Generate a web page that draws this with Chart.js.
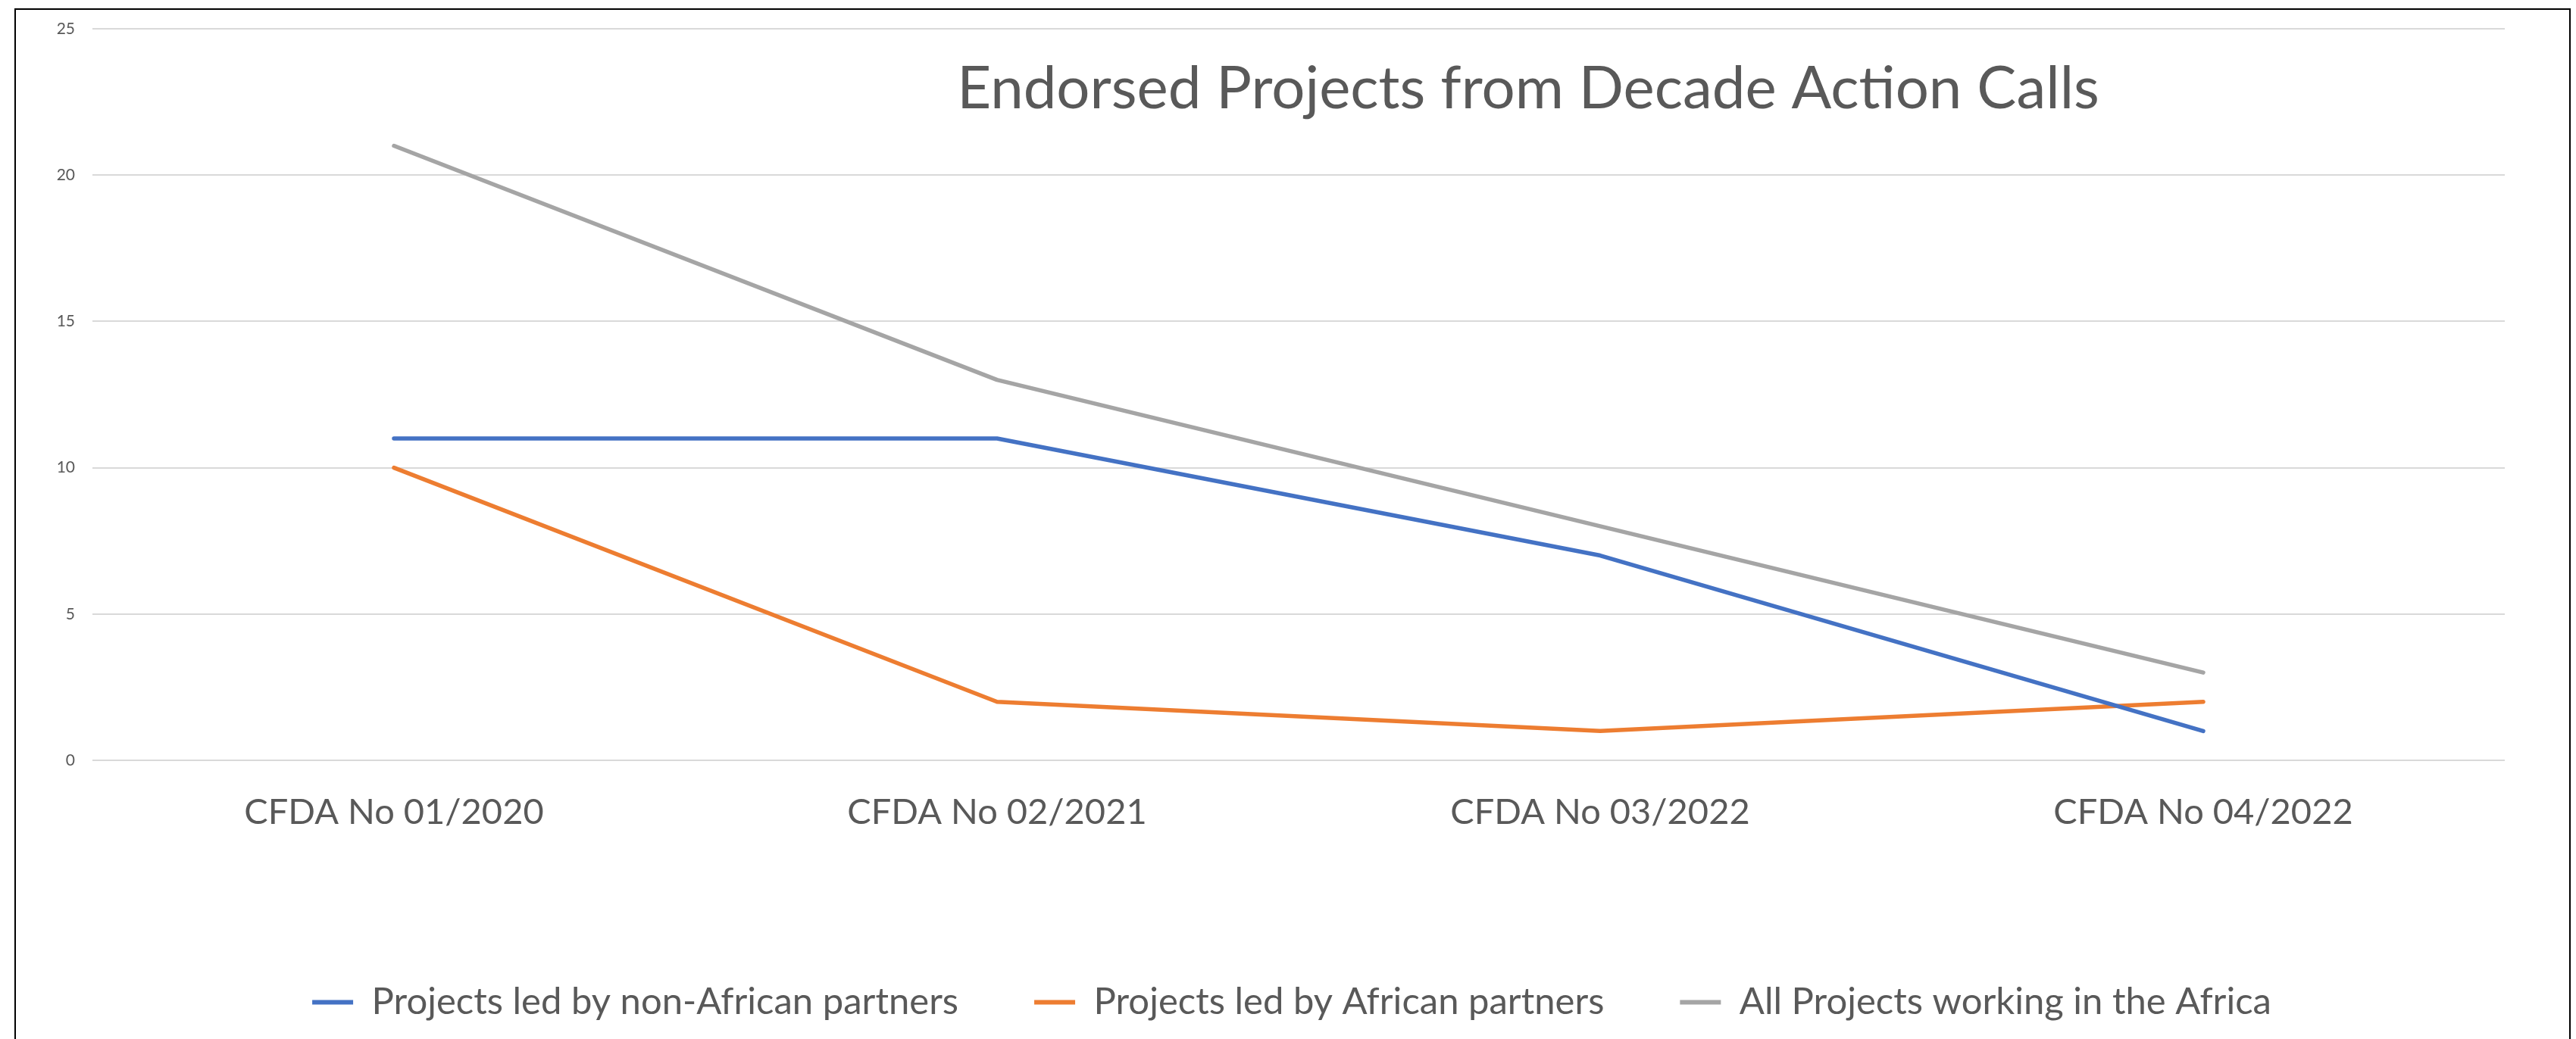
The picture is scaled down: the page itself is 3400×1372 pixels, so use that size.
<!DOCTYPE html>
<html>
<head>
<meta charset="utf-8">
<title>Endorsed Projects from Decade Action Calls</title>
<script src="https://cdn.jsdelivr.net/npm/chart.js@4.4.1/dist/chart.umd.min.js"></script>
<style>
  html, body { margin: 0; padding: 0; background: #fff; overflow: hidden; }
  #wrap { position: relative; width: 3400px; height: 1372px; }
  #frame {
    position: absolute; left: 19px; top: 11px; width: 3374px; height: 1420px;
    box-sizing: border-box; border: 2px solid #000; pointer-events: none;
  }
</style>
</head>
<body>
<div id="wrap">
  <canvas id="myChart" width="3400" height="1372"></canvas>
  <div id="frame"></div>
</div>
<script>
// chart data
let chartTitle = 'Endorsed Projects from Decade Action Calls'
let categories = ['CFDA No 01/2020', 'CFDA No 02/2021', 'CFDA No 03/2022', 'CFDA No 04/2022']
let seriesNames = ['Projects led by non-African partners', 'Projects led by African partners', 'All Projects working in the Africa']
let nonAfrican = [11, 11, 7, 1]
let african = [10, 2, 1, 2]
let allAfrica = [21, 13, 8, 3]
let yMin = 0
let yMax = 25
let yStep = 5

let textColor = '#595959'
let gridColor = '#D9D9D9'
let fontFamily = 'Lato, "Open Sans", sans-serif'
let legendPad = 100

Chart.defaults.font.family = fontFamily
Chart.defaults.color = textColor

function lineSet(label, data, color) {
    return {
        label: label,
        data: data,
        borderColor: color,
        backgroundColor: color,
        borderWidth: 5.5,
        borderCapStyle: 'round',
        borderJoinStyle: 'round',
        pointRadius: 0,
        pointHoverRadius: 0,
        tension: 0,
        fill: false
    }
}

// title sits inside the plot area, right of centre, like the original
let titlePlugin = {
    id: 'floatTitle',
    afterLayout(chart) {
        // the original legend is centred on the whole frame, not on the plot
        chart.legend.left += 52
        chart.legend.right += 52
    },
    afterDraw(chart) {
        let c = chart.ctx
        c.save()
        c.font = '78px ' + fontFamily
        c.fillStyle = textColor
        c.textAlign = 'center'
        c.textBaseline = 'alphabetic'
        c.fillText(chartTitle, 2017, 143)
        c.restore()
    }
}

let ctx = document.getElementById('myChart').getContext('2d')
new Chart(ctx, {
    type: 'line',
    data: {
        labels: categories,
        datasets: [
            lineSet(seriesNames[0], nonAfrican, '#4472C4'),
            lineSet(seriesNames[1], african, '#ED7D31'),
            lineSet(seriesNames[2], allAfrica, '#A5A5A5')
        ]
    },
    options: {
        responsive: false,
        animation: false,
        events: [],
        layout: {
            padding: { top: 38, right: 94, bottom: 14, left: 0 }
        },
        scales: {
            x: {
                type: 'category',
                offset: true,
                grid: { display: false, drawTicks: false },
                border: { display: false },
                ticks: {
                    font: { size: 47 },
                    color: textColor,
                    padding: 41,
                    maxRotation: 0,
                    autoSkip: false
                },
                afterFit(scale) { scale.height = 295 - legendPad }
            },
            y: {
                min: yMin,
                max: yMax,
                grid: { color: gridColor, lineWidth: 2, drawTicks: false },
                border: { display: false },
                ticks: {
                    stepSize: yStep,
                    font: { size: 21 },
                    color: textColor,
                    padding: 23
                },
                afterFit(scale) { scale.width = 122 }
            }
        },
        plugins: {
            title: { display: false },
            tooltip: { enabled: false },
            legend: {
                position: 'bottom',
                labels: {
                    font: { size: 49 },
                    color: textColor,
                    boxWidth: 54,
                    boxHeight: 6,
                    padding: legendPad,
                    generateLabels(chart) {
                        let items = Chart.defaults.plugins.legend.labels.generateLabels(chart)
                        items.forEach(it => { it.lineWidth = 0 })
                        return items
                    }
                }
            }
        }
    },
    plugins: [titlePlugin]
})
</script>
</body>
</html>
